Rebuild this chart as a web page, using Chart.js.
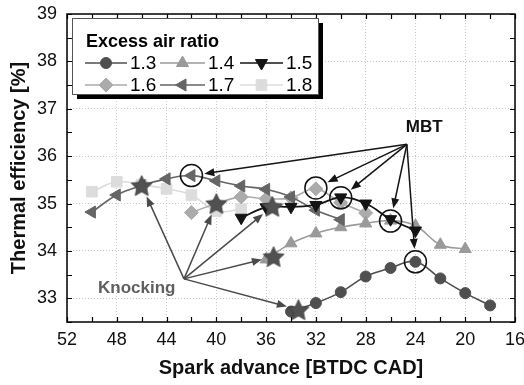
<!DOCTYPE html>
<html><head><meta charset="utf-8">
<script src="https://cdn.jsdelivr.net/npm/chart.js@4.4.1/dist/chart.umd.min.js"></script>
<style>html,body{margin:0;padding:0;background:#fff}</style>
</head><body>
<canvas id="c" width="524" height="385" style="width:524px;height:385px;display:block"></canvas>
<script>
// ---------- data ----------
const ratioLabels = ['1.3','1.4','1.5','1.6','1.7','1.8'];
const adv13 = [34,32,30,28,26,24,22,20,18];
const eff13 = [32.72,32.90,33.13,33.46,33.64,33.77,33.42,33.11,32.85];
const adv14 = [36,34,32,30,28,26,24,22,20];
const eff14 = [33.82,34.16,34.37,34.50,34.58,34.64,34.53,34.13,34.04];
const adv15 = [38,36,34,32,30,28,26,24];
const eff15 = [34.70,34.92,34.93,34.97,35.13,35.00,34.67,34.43];
const adv16 = [42,40,38,36,34,32,30,28];
const eff16 = [34.81,35.00,35.14,35.10,35.12,35.31,35.02,34.80];
const adv17 = [50,48,46,44,42,40,38,36,34,32,30];
const eff17 = [34.82,35.18,35.38,35.52,35.59,35.48,35.37,35.30,35.14,34.86,34.66];
const adv18 = [50,48,46,44,42,40,38];
const eff18 = [35.25,35.46,35.40,35.31,35.18,34.84,34.88];
const knockAdv = [46,40,35.5,35.4,33.4];
const knockEff = [35.38,35.00,34.94,33.88,32.76];
const mbtAdv = [42,32,30,26,24];
const mbtEff = [35.59,35.33,35.12,34.63,33.77];
const mbtLabelAt = [23.3,36.5];     // text anchor (adv, eff)
const mbtFrom = [24.69,36.25];      // arrow origin
const knockLabelAt = [46.4,33.11];
const knockFrom = [42.6,33.41];
const xTickValues = [52,48,44,40,36,32,28,24,20,16];
const yTickValues = [33,34,35,36,37,38,39];
const xMinorStep = 2, yMinorStep = 0.5;

// ---------- styles ----------
const F = '"Liberation Sans", Arial, sans-serif';
const styles = [
  {color:'#4f4f4f', point:'circle',   rot:0,   r:5.5, order:2, bw:1.6},
  {color:'#9a9a9a', point:'triangle', rot:0,   r:7,   order:4, bw:1.6},
  {color:'#141414', point:'triangle', rot:180, r:7,   order:1, bw:1.8},
  {color:'#ababab', point:'rectRot',  rot:0,   r:7,   order:5, bw:1.6},
  {color:'#656565', point:'triangle', rot:-90, r:7,   order:3, bw:1.6},
  {color:'#dcdcdc', point:'rect',     rot:0,   r:7.5, order:6, bw:1.6}
];
const advs = [adv13,adv14,adv15,adv16,adv17,adv18];
const effs = [eff13,eff14,eff15,eff16,eff17,eff18];

function makeStar(r, fill){
  const s = Math.ceil(r*2+4);
  const c = document.createElement('canvas'); c.width=s; c.height=s;
  const g = c.getContext('2d'); g.translate(s/2, s/2+1);
  g.beginPath();
  for(let i=0;i<10;i++){
    const rr = i%2===0 ? r : r*0.48;
    const a = -Math.PI/2 + i*Math.PI/5;
    g.lineTo(rr*Math.cos(a), rr*Math.sin(a));
  }
  g.closePath(); g.fillStyle=fill; g.fill();
  g.lineWidth=0.8; g.strokeStyle='#3a3a3a'; g.stroke();
  return c;
}
const starImg = makeStar(11, '#515151');

const datasets = [{
  label:'Knocking', data: knockAdv.map((v,i)=>({x:v,y:knockEff[i]})),
  showLine:false, pointStyle: starImg, order:0, borderColor:'#515151', backgroundColor:'#515151'
}];
styles.forEach((s,i)=>{
  datasets.push({
    label: ratioLabels[i],
    data: advs[i].map((v,j)=>({x:v,y:effs[i][j]})),
    borderColor:s.color, backgroundColor:s.color, borderWidth:s.bw,
    pointStyle:s.point, rotation:s.rot, pointRadius:s.r,
    pointBorderWidth:1, pointBackgroundColor:s.color, pointBorderColor:s.color,
    tension:0.4, order:s.order, fill:false
  });
});

function drawMarker(ctx, s, x, y){
  ctx.fillStyle = s.color; ctx.strokeStyle = s.color; ctx.lineWidth = 1;
  if (Chart.helpers && Chart.helpers.drawPoint) {
    Chart.helpers.drawPoint(ctx, {pointStyle:s.point, rotation:s.rot, radius:s.r, borderWidth:1}, x, y);
  } else {
    ctx.beginPath(); ctx.arc(x,y,s.r,0,Math.PI*2); ctx.fill();
  }
}
function arrow(ctx, x0,y0,x1,y1, gap, color){
  const dx=x1-x0, dy=y1-y0, L=Math.hypot(dx,dy), ux=dx/L, uy=dy/L;
  const ex=x1-ux*gap, ey=y1-uy*gap;
  const hl=10, hw=4;
  ctx.strokeStyle=color; ctx.fillStyle=color; ctx.lineWidth=1.5;
  ctx.beginPath(); ctx.moveTo(x0,y0); ctx.lineTo(ex-ux*hl*0.6, ey-uy*hl*0.6); ctx.stroke();
  ctx.beginPath(); ctx.moveTo(ex,ey);
  ctx.lineTo(ex-ux*hl-uy*hw, ey-uy*hl+ux*hw);
  ctx.lineTo(ex-ux*hl+uy*hw, ey-uy*hl-ux*hw);
  ctx.closePath(); ctx.fill();
}

const decor = {
  id:'decor',
  afterDatasetsDraw(chart){
    const {ctx, chartArea:a, scales:{x,y}} = chart;
    ctx.save();
    // frame + inward ticks
    ctx.strokeStyle='#000'; ctx.lineWidth=1.5;
    ctx.strokeRect(a.left, a.top, a.right-a.left, a.bottom-a.top);
    ctx.lineWidth=1.2; ctx.beginPath();
    for(let v=16; v<=52+1e-9; v+=xMinorStep){
      const px=Math.round(x.getPixelForValue(v))+0.5;
      ctx.moveTo(px,a.bottom); ctx.lineTo(px,a.bottom-5);
      ctx.moveTo(px,a.top); ctx.lineTo(px,a.top+5);
    }
    for(let v=32.5; v<=39+1e-9; v+=yMinorStep){
      const py=Math.round(y.getPixelForValue(v))+0.5;
      ctx.moveTo(a.left,py); ctx.lineTo(a.left+5,py);
      ctx.moveTo(a.right,py); ctx.lineTo(a.right-5,py);
    }
    ctx.stroke();
    // MBT circles
    ctx.strokeStyle='#111'; ctx.lineWidth=1.5;
    mbtAdv.forEach((v,i)=>{
      ctx.beginPath(); ctx.arc(x.getPixelForValue(v), y.getPixelForValue(mbtEff[i]), 11, 0, Math.PI*2); ctx.stroke();
    });
    // MBT arrows
    const mx=x.getPixelForValue(mbtFrom[0]), my=y.getPixelForValue(mbtFrom[1]);
    mbtAdv.forEach((v,i)=> arrow(ctx, mx,my, x.getPixelForValue(v), y.getPixelForValue(mbtEff[i]), 13, '#151515'));
    // Knocking arrows
    const kx=x.getPixelForValue(knockFrom[0]), ky=y.getPixelForValue(knockFrom[1]);
    knockAdv.forEach((v,i)=> arrow(ctx, kx,ky, x.getPixelForValue(v), y.getPixelForValue(knockEff[i]), 12, '#4a4a4a'));
    // labels
    ctx.font='bold 17px '+F; ctx.textAlign='center'; ctx.textBaseline='alphabetic';
    ctx.fillStyle='#111'; ctx.fillText('MBT', x.getPixelForValue(mbtLabelAt[0]), y.getPixelForValue(mbtLabelAt[1]));
    ctx.fillStyle='#5f5f5f'; ctx.fillText('Knocking', x.getPixelForValue(knockLabelAt[0]), y.getPixelForValue(knockLabelAt[1]));
    // legend
    const L=a.left+5, T=a.top+4, W=246, H=76;
    ctx.fillStyle='#000'; ctx.fillRect(L+5,T+5,W,H);
    ctx.fillStyle='#fff'; ctx.fillRect(L,T,W,H);
    ctx.strokeStyle='#555'; ctx.lineWidth=1; ctx.strokeRect(L+0.5,T+0.5,W,H);
    ctx.fillStyle='#000'; ctx.font='bold 18px '+F; ctx.textAlign='left';
    ctx.fillText('Excess air ratio', L+14, T+29);
    const colX=[L+13, L+88, L+168], segLen=[42,45,43], rowY=[T+45, T+67];
    ctx.font='19px '+F; ctx.textBaseline='middle';
    styles.forEach((s,i)=>{
      const c=i%3, cx=colX[c], cy=rowY[Math.floor(i/3)], sl=segLen[c];
      ctx.strokeStyle=s.color; ctx.lineWidth=1.6;
      ctx.beginPath(); ctx.moveTo(cx,cy); ctx.lineTo(cx+sl,cy); ctx.stroke();
      drawMarker(ctx, s, cx+sl/2, cy);
      ctx.fillStyle='#000'; ctx.fillText(ratioLabels[i], cx+sl+3, cy+1);
    });
    ctx.restore();
  }
};

new Chart(document.getElementById('c'), {
  type:'line',
  data:{datasets},
  plugins:[decor],
  options:{
    responsive:false, animation:false, devicePixelRatio:1,
    layout:{padding:{top:14,right:9,left:0,bottom:0}},
    plugins:{legend:{display:false}, tooltip:{enabled:false}},
    scales:{
      x:{type:'linear', reverse:true, min:16, max:52,
        afterBuildTicks:s=>{s.ticks=xTickValues.map(v=>({value:v}));},
        afterFit:s=>{s.height=63; s.paddingLeft=0; s.paddingRight=0;},
        grid:{color:'#c8c8c8', lineWidth:1, drawTicks:false},
        border:{display:false, dash:[1,2]},
        ticks:{font:{family:F,size:18}, color:'#111', padding:7, maxRotation:0, autoSkip:false},
        title:{display:true, text:'Spark advance [BTDC CAD]', font:{family:F,size:20,weight:'bold'}, color:'#111', padding:{top:0,bottom:5}}
      },
      y:{type:'linear', min:32.5, max:39,
        afterBuildTicks:s=>{s.ticks=yTickValues.map(v=>({value:v}));},
        afterFit:s=>{s.width=67; s.paddingTop=0; s.paddingBottom=0;},
        grid:{color:'#c8c8c8', lineWidth:1, drawTicks:false},
        border:{display:false, dash:[1,2]},
        ticks:{font:{family:F,size:18}, color:'#111', padding:10},
        title:{display:true, text:'Thermal efficiency [%]', font:{family:F,size:20,weight:'bold'}, color:'#111', padding:{top:7,bottom:0}}
      }
    }
  }
});
</script>
</body></html>
